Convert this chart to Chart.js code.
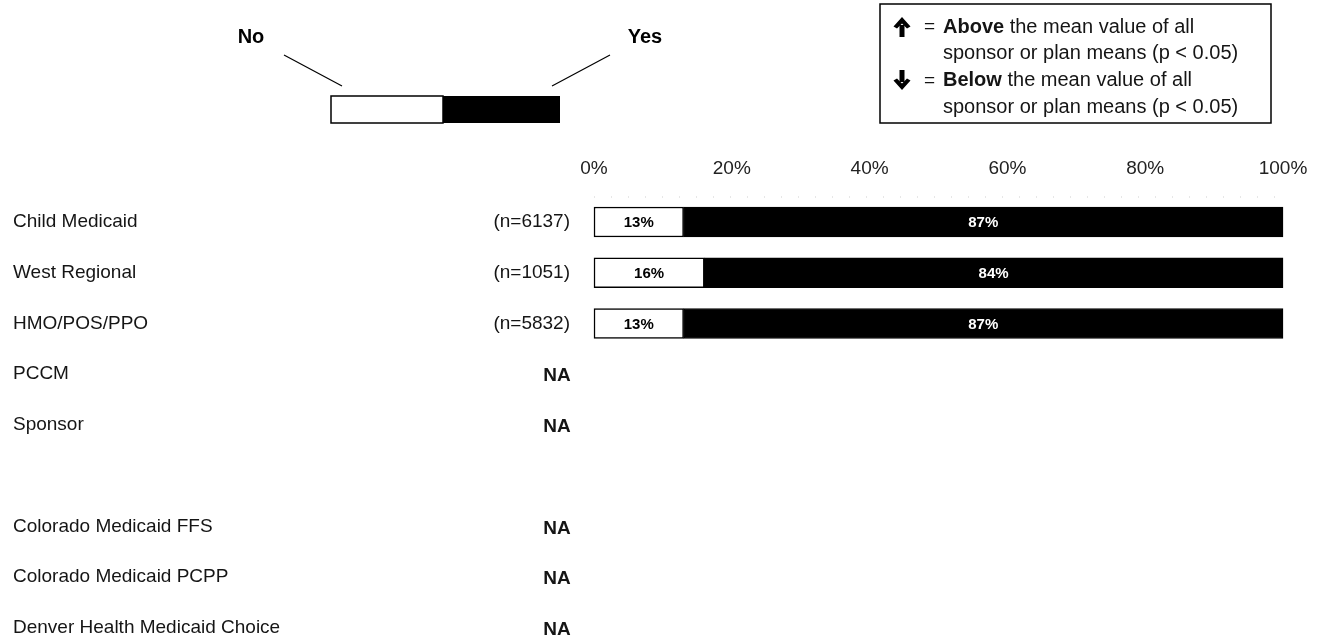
<!DOCTYPE html>
<html lang="en">
<head>
  <meta charset="UTF-8" />
  <title>Yes / No by plan</title>
  <style>
    body { margin: 0; background: #ffffff; overflow: hidden; }
    canvas { display: block; }
  </style>
</head>
<body>
  <canvas id="chart" width="1323" height="640"></canvas>

  <script src="https://cdn.jsdelivr.net/npm/chart.js"></script>
  <script>
    // rows (blank entry is the spacer between sponsor group and plans)
    const categories = ['Child Medicaid', 'West Regional', 'HMO/POS/PPO', 'PCCM', 'Sponsor', '',
      'Colorado Medicaid FFS', 'Colorado Medicaid PCPP', 'Denver Health Medicaid Choice'];
    const sampleSizes = ['(n=6137)', '(n=1051)', '(n=5832)', 'NA', 'NA', '', 'NA', 'NA', 'NA'];
    const noValues = [13, 16, 13, null, null, null, null, null, null];
    const yesValues = [87, 84, 87, null, null, null, null, null, null];
    const xTicks = [0, 20, 40, 60, 80, 100];

    const FONT = '"Liberation Sans", Arial, sans-serif';
    const ink = '#151515';

    const overlay = {
      id: 'overlay',
      afterDatasetsDraw(chart) {
        const ctx = chart.ctx;
        const y = chart.scales.y;
        const area = chart.chartArea;
        ctx.save();

        // faint dotted rule under the tick labels
        ctx.strokeStyle = '#cfcfcf';
        ctx.lineWidth = 1;
        ctx.setLineDash([1, 16]);
        ctx.beginPath();
        ctx.moveTo(area.left, area.top - 25);
        ctx.lineTo(area.right, area.top - 25);
        ctx.stroke();
        ctx.setLineDash([]);

        // row labels, sample sizes, NA
        ctx.textBaseline = 'middle';
        categories.forEach((c, i) => {
          const py = y.getPixelForValue(i);
          ctx.fillStyle = ink;
          ctx.font = '19px ' + FONT;
          ctx.textAlign = 'left';
          ctx.fillText(c, 13, py);
          const s = sampleSizes[i];
          if (s === 'NA') {
            ctx.font = 'bold 19px ' + FONT;
            ctx.textAlign = 'center';
            ctx.fillText(s, 557, py + 2);
          } else if (s) {
            ctx.textAlign = 'right';
            ctx.fillText(s, 570, py);
          }
        });

        // values inside the bars
        ctx.font = 'bold 15px ' + FONT;
        ctx.textAlign = 'center';
        [0, 1].forEach(d => {
          const meta = chart.getDatasetMeta(d);
          const vals = d === 0 ? noValues : yesValues;
          meta.data.forEach((el, i) => {
            if (vals[i] == null) return;
            ctx.fillStyle = d === 0 ? '#000' : '#fff';
            ctx.fillText(vals[i] + '%', (el.x + el.base) / 2, el.y + 1);
          });
        });

        // No / Yes key
        ctx.fillStyle = '#000';
        ctx.font = 'bold 20px ' + FONT;
        ctx.fillText('No', 251, 37);
        ctx.fillText('Yes', 645, 37);
        ctx.strokeStyle = '#000';
        ctx.lineWidth = 1.2;
        ctx.beginPath();
        ctx.moveTo(284, 55); ctx.lineTo(342, 86);
        ctx.moveTo(610, 55); ctx.lineTo(552, 86);
        ctx.stroke();
        ctx.lineWidth = 1.5;
        ctx.fillStyle = '#fff';
        ctx.fillRect(331, 96, 112, 27);
        ctx.strokeRect(331, 96, 112, 27);
        ctx.fillStyle = '#000';
        ctx.fillRect(443, 96, 117, 27);

        // significance box
        ctx.lineWidth = 1.5;
        ctx.strokeRect(880, 4, 391, 119);
        drawArrow(ctx, 902, 27, true);
        drawArrow(ctx, 902, 80, false);
        ctx.textAlign = 'left';
        ctx.fillStyle = ink;
        const lines = [['=', 'Above', ' the mean value of all'], ['', '', 'sponsor or plan means (p < 0.05)'],
          ['=', 'Below', ' the mean value of all'], ['', '', 'sponsor or plan means (p < 0.05)']];
        lines.forEach((ln, k) => {
          const ly = 27 + k * 26.7;
          let x = 943;
          if (ln[0]) {
            ctx.font = '19px ' + FONT;
            ctx.fillText(ln[0], 924, ly);
          }
          if (ln[1]) {
            ctx.font = 'bold 20px ' + FONT;
            ctx.fillText(ln[1], x, ly);
            x += ctx.measureText(ln[1]).width;
          }
          ctx.font = '20px ' + FONT;
          ctx.fillText(ln[2], x, ly);
        });
        ctx.restore();
      }
    };

    function drawArrow(ctx, x, cy, up) {
      const dir = up ? -1 : 1;
      ctx.save();
      ctx.fillStyle = '#000';
      ctx.strokeStyle = '#000';
      ctx.lineWidth = 5;
      ctx.beginPath();
      ctx.moveTo(x, cy - dir * 10);
      ctx.lineTo(x, cy + dir * 2);
      ctx.stroke();
      ctx.beginPath();
      ctx.moveTo(x, cy + dir * 10);
      ctx.lineTo(x - 8.5, cy + dir * 0.5);
      ctx.lineTo(x - 5, cy - dir * 1.5);
      ctx.lineTo(x, cy + dir * 3.5);
      ctx.lineTo(x + 5, cy - dir * 1.5);
      ctx.lineTo(x + 8.5, cy + dir * 0.5);
      ctx.closePath();
      ctx.fill();
      ctx.restore();
    }

    new Chart(document.getElementById('chart'), {
      type: 'bar',
      data: {
        labels: categories,
        datasets: [
          {
            label: 'No',
            data: noValues,
            backgroundColor: '#ffffff',
            borderColor: '#000000',
            borderWidth: 1.5,
            borderSkipped: false,
            barThickness: 30,
            clip: false
          },
          {
            label: 'Yes',
            data: yesValues,
            backgroundColor: '#000000',
            borderColor: '#000000',
            borderWidth: 1,
            borderSkipped: false,
            barThickness: 30,
            clip: false
          }
        ]
      },
      options: {
        indexAxis: 'y',
        responsive: false,
        animation: false,
        layout: { padding: { left: 594, right: 40, top: 0, bottom: 12 } },
        plugins: {
          legend: { display: false },
          tooltip: { enabled: false }
        },
        scales: {
          x: {
            position: 'top',
            stacked: true,
            min: 0,
            max: 100,
            afterBuildTicks: scale => { scale.ticks = xTicks.map(v => ({ value: v })); },
            afterFit: scale => {
              scale.height = 222;
              scale.paddingLeft = 0;
              scale.paddingRight = 0;
            },
            ticks: {
              callback: v => v + '%',
              color: '#222',
              font: { family: FONT, size: 19 },
              padding: 42,
              maxRotation: 0
            },
            grid: { display: false, drawTicks: false },
            border: { display: false }
          },
          y: {
            stacked: true,
            display: false,
            offset: false
          }
        }
      },
      plugins: [overlay]
    });
  </script>
</body>
</html>
